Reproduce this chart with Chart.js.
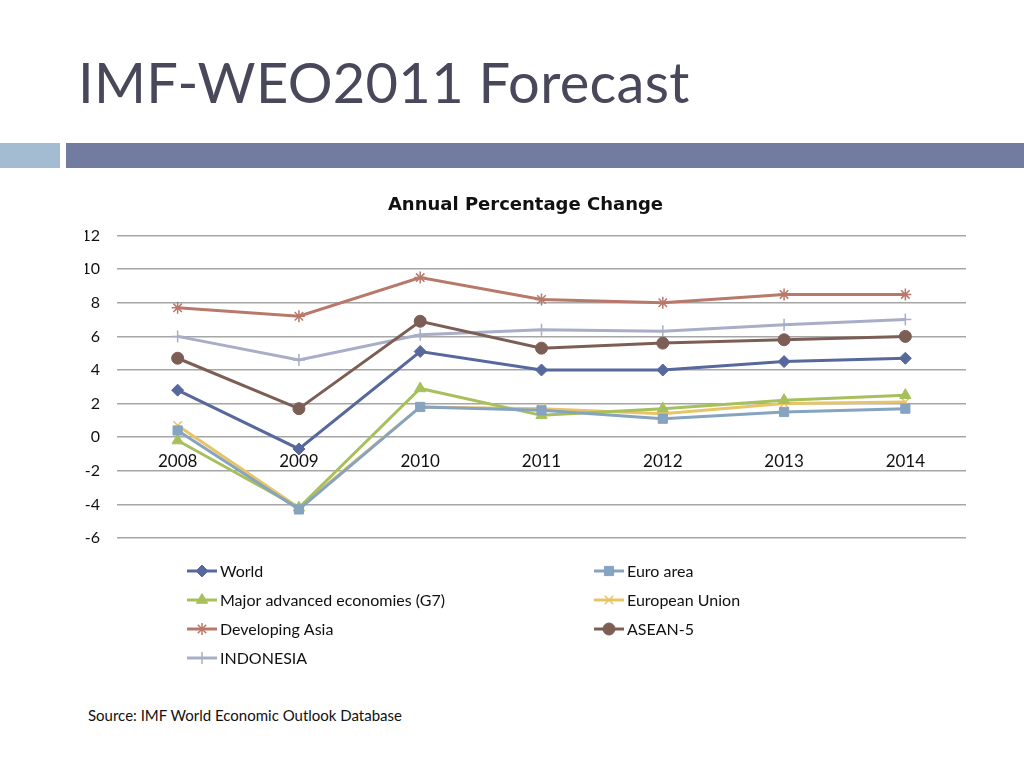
<!DOCTYPE html>
<html>
<head>
<meta charset="utf-8">
<script src="https://cdn.jsdelivr.net/npm/chart.js@4.4.1/dist/chart.umd.min.js"></script>
<style>
  body { margin: 0; width: 1024px; height: 768px; background: #fff; position: relative; overflow: hidden; font-family: Lato, "Open Sans", sans-serif; }
  #titulo { position: absolute; left: 78px; top: 48px; margin: 0; font-size: 56px; font-weight: normal; color: #48485a; letter-spacing: 0.3px; }
  .barraA { position: absolute; left: 0; top: 143px; width: 60px; height: 25px; background: #a3bcd2; }
  .barraB { position: absolute; left: 66px; top: 143px; width: 958px; height: 25px; background: #727ca0; }
  #box { position: absolute; left: 65px; top: 185px; width: 920px; height: 500px; }
  #fonte { position: absolute; left: 88px; top: 706px; font-size: 15px; color: #111; }
</style>
</head>
<body>
<h1 id="titulo">IMF-WEO2011 Forecast</h1>
<div class="barraA"></div>
<div class="barraB"></div>
<div id="box"><canvas id="grafico"></canvas></div>
<div id="fonte">Source: IMF World Economic Outlook Database</div>
<script>
  const anos = ["2008", "2009", "2010", "2011", "2012", "2013", "2014"];
  const world = [2.8, -0.7, 5.1, 4.0, 4.0, 4.5, 4.7];
  const euroArea = [0.4, -4.3, 1.8, 1.6, 1.1, 1.5, 1.7];
  const g7 = [-0.2, -4.2, 2.9, 1.3, 1.7, 2.2, 2.5];
  const uniaoEuropeia = [0.7, -4.2, 1.8, 1.7, 1.4, 2.0, 2.1];
  const devAsia = [7.7, 7.2, 9.5, 8.2, 8.0, 8.5, 8.5];
  const asean5 = [4.7, 1.7, 6.9, 5.3, 5.6, 5.8, 6.0];
  const indonesia = [6.0, 4.6, 6.1, 6.4, 6.3, 6.7, 7.0];
  const yTicks = [-6, -4, -2, 0, 2, 4, 6, 8, 10, 12];

  function serie(label, data, cor, estilo, raio) {
    return {
      label, data,
      borderColor: cor, backgroundColor: cor,
      pointBackgroundColor: cor, pointBorderColor: cor,
      borderWidth: 3, pointStyle: estilo, pointRadius: raio,
      pointBorderWidth: (estilo === "cross" || estilo === "crossRot" || estilo === "star") ? 1.5 : 1,
      tension: 0
    };
  }

  const datasets = [
    serie("World", world, "#56689c", "rectRot", 6),
    serie("Euro area", euroArea, "#86a3c0", "rect", 6.5),
    serie("Major advanced economies (G7)", g7, "#a7c05c", "triangle", 6.5),
    serie("European Union", uniaoEuropeia, "#e8c468", "crossRot", 6),
    serie("Developing Asia", devAsia, "#b8786a", "star", 6),
    serie("ASEAN-5", asean5, "#7d5e55", "circle", 6),
    serie("INDONESIA", indonesia, "#a8aec8", "cross", 6)
  ];

  // legenda em duas colunas desenhada no canvas
  const legendaColunas = {
    id: "legendaColunas",
    afterDraw(chart) {
      const ctx = chart.ctx;
      const colX = [122, 529];
      ctx.save();
      ctx.font = "16px Lato, 'Open Sans', sans-serif";
      ctx.textBaseline = "middle";
      chart.data.datasets.forEach((ds, i) => {
        const x = colX[i % 2];
        const y = 386 + Math.floor(i / 2) * 29;
        ctx.strokeStyle = ds.borderColor;
        ctx.fillStyle = ds.backgroundColor;
        ctx.lineWidth = 3;
        ctx.beginPath();
        ctx.moveTo(x, y);
        ctx.lineTo(x + 30, y);
        ctx.stroke();
        ctx.lineWidth = ds.pointBorderWidth;
        Chart.helpers.drawPoint(ctx, {
          pointStyle: ds.pointStyle, radius: ds.pointRadius, rotation: 0, borderWidth: ds.pointBorderWidth
        }, x + 15, y);
        ctx.fillStyle = "#111";
        ctx.fillText(ds.label, x + 33, y + 1);
      });
      ctx.restore();
    }
  };

  new Chart(document.getElementById("grafico"), {
    type: "line",
    data: { labels: anos, datasets },
    plugins: [legendaColunas],
    options: {
      responsive: true,
      maintainAspectRatio: false,
      animation: false,
      layout: { padding: { left: 20, right: 19, top: 0, bottom: 147 } },
      plugins: {
        legend: { display: false },
        tooltip: { enabled: false },
        title: {
          display: true,
          text: "Annual Percentage Change",
          color: "#111",
          font: { family: "'DejaVu Sans', sans-serif", size: 18, weight: "bold" },
          padding: { top: 10, bottom: 19 }
        }
      },
      scales: {
        x: {
          position: { y: 0 },
          offset: true,
          grid: { display: false },
          border: { display: false },
          ticks: { color: "#111", padding: 6, font: { family: "Lato, 'Open Sans', sans-serif", size: 17 } }
        },
        y: {
          min: -6, max: 12,
          afterBuildTicks: s => { s.ticks = yTicks.map(v => ({ value: v })); },
          afterFit: s => { s.width = 32; },
          grid: { color: "#a6a6a6", lineWidth: 1.5, drawTicks: false },
          border: { display: false },
          ticks: { color: "#111", padding: 17, font: { family: "Lato, 'Open Sans', sans-serif", size: 16 } }
        }
      }
    }
  });
</script>
</body>
</html>
